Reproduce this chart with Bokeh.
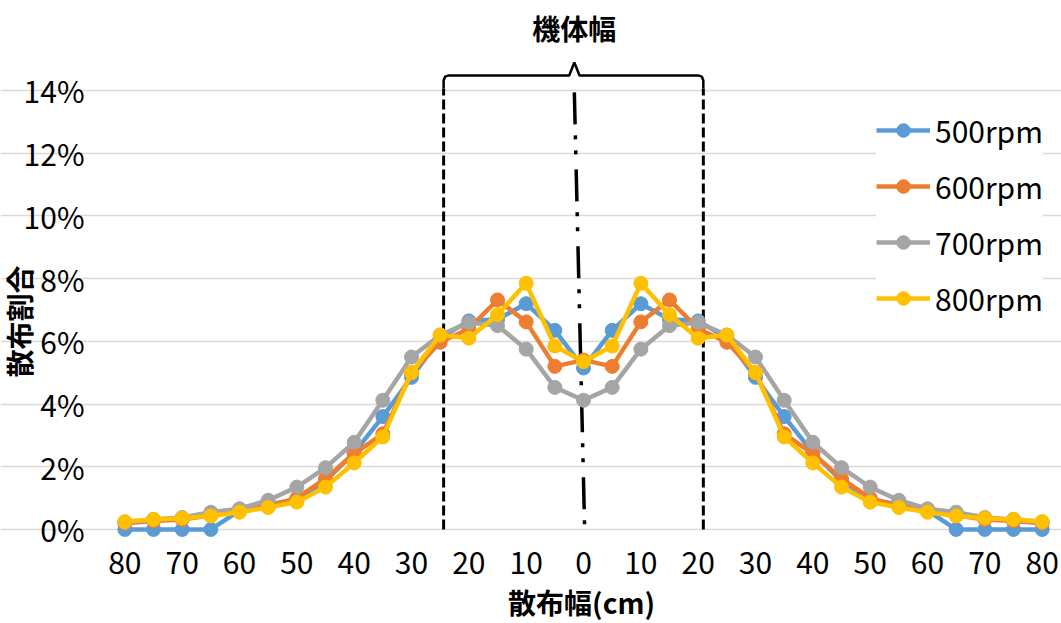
from bokeh.core.properties import value
from bokeh.embed import file_html
from bokeh.models import (ColumnDataSource, FixedTicker, Legend, LegendItem,
                          Range1d)
from bokeh.plotting import figure
from bokeh.resources import INLINE

# Distance from the machine centre line (cm); negative = left side
offset_cm = [-80, -75, -70, -65, -60, -55, -50, -45, -40, -35, -30, -25, -20,
             -15, -10, -5, 0, 5, 10, 15, 20, 25, 30, 35, 40, 45, 50, 55, 60,
             65, 70, 75, 80]

# Spread ratio (%) for each rotor speed
rpm_500 = [0.0, 0.0, 0.0, 0.0, 0.6, 0.8, 0.95, 1.55, 2.45, 3.6, 4.85, 6.1, 6.65,
           6.7, 7.2, 6.35, 5.15, 6.35, 7.2, 6.7, 6.65, 6.1, 4.85, 3.6, 2.45,
           1.55, 0.95, 0.8, 0.6, 0.0, 0.0, 0.0, 0.0]
rpm_600 = [0.2, 0.27, 0.32, 0.45, 0.58, 0.75, 1.0, 1.62, 2.42, 3.05, 5.0, 5.97,
           6.4, 7.32, 6.62, 5.2, 5.4, 5.2, 6.62, 7.32, 6.4, 5.97, 5.0, 3.05,
           2.42, 1.62, 1.0, 0.75, 0.58, 0.45, 0.32, 0.27, 0.2]
rpm_700 = [0.22, 0.32, 0.38, 0.55, 0.66, 0.93, 1.35, 1.97, 2.78, 4.12, 5.5, 6.2,
           6.6, 6.5, 5.75, 4.53, 4.12, 4.53, 5.75, 6.5, 6.6, 6.2, 5.5, 4.12,
           2.78, 1.97, 1.35, 0.93, 0.66, 0.55, 0.38, 0.32, 0.22]
rpm_800 = [0.25, 0.32, 0.36, 0.43, 0.55, 0.7, 0.87, 1.35, 2.12, 2.95, 5.0, 6.2,
           6.1, 6.85, 7.85, 5.85, 5.35, 5.85, 7.85, 6.85, 6.1, 6.2, 5.0, 2.95,
           2.12, 1.35, 0.87, 0.7, 0.55, 0.43, 0.36, 0.32, 0.25]

series_names = ["500rpm", "600rpm", "700rpm", "800rpm"]
series_values = [rpm_500, rpm_600, rpm_700, rpm_800]
series_colors = ["#5B9BD5", "#ED7D31", "#A5A5A5", "#FFC000"]

x_ticks = [-80, -70, -60, -50, -40, -30, -20, -10, 0, 10, 20, 30, 40, 50, 60,
           70, 80]
x_tick_labels = ["80", "70", "60", "50", "40", "30", "20", "10", "0", "10",
                 "20", "30", "40", "50", "60", "70", "80"]
y_ticks = [0, 2, 4, 6, 8, 10, 12, 14]
y_tick_labels = ["0%", "2%", "4%", "6%", "8%", "10%", "12%", "14%"]

x_title = ["散布幅(cm)"]
y_title = ["散布割合"]

# Machine body width and centre line (cm)
body_left_cm = -24.4
body_right_cm = 20.9
centre_top_cm = -1.6
centre_bottom_cm = 0.2
body_title = ["機体幅"]

FONT = "Noto Sans CJK JP"
NUM_SIZE = "30px"
TITLE_SIZE = "28px"

# Data area spans -82.5..82.5 cm and 0..14 %; the ranges reach further so
# that the titles and the brace sit inside the drawing frame.
X_MIN, X_MAX = -82.5, 82.5
p = figure(width=1061, height=623, output_backend="svg", toolbar_location=None,
           x_range=Range1d(-101.69, 83.37), y_range=Range1d(-3.0, 16.87),
           min_border_left=0, min_border_right=0, min_border_top=0,
           min_border_bottom=0)
p.outline_line_color = None
p.background_fill_color = "white"
p.border_fill_color = "white"

p.xgrid.visible = False
p.ygrid.grid_line_color = "#D9D9D9"
p.ygrid.grid_line_width = 1.5
p.ygrid.bounds = (X_MIN, X_MAX)

# y axis pinned to the left edge of the data area
p.yaxis.fixed_location = X_MIN
p.yaxis.ticker = FixedTicker(ticks=y_ticks)
p.yaxis.major_label_overrides = dict(zip(y_ticks, y_tick_labels))
p.yaxis.axis_line_color = None
p.yaxis.major_tick_line_color = None
p.yaxis.minor_tick_line_color = None
p.yaxis.major_label_standoff = 20
p.yaxis.major_label_text_font = FONT
p.yaxis.major_label_text_font_size = NUM_SIZE
p.yaxis.major_label_text_color = "black"

# x axis pinned to 0 %, distances shown without sign on both sides
p.xaxis.fixed_location = 0
p.xaxis.ticker = FixedTicker(ticks=x_ticks)
p.xaxis.major_label_overrides = dict(zip(x_ticks, x_tick_labels))
p.xaxis.axis_line_color = None
p.xaxis.major_tick_line_color = None
p.xaxis.minor_tick_line_color = None
p.xaxis.major_label_standoff = 17
p.xaxis.major_label_text_font = FONT
p.xaxis.major_label_text_font_size = NUM_SIZE
p.xaxis.major_label_text_color = "black"

# Axis titles
p.text(x=[-0.35], y=[-2.3], text=x_title, text_font=value(FONT),
       text_font_style="bold", text_font_size=TITLE_SIZE, text_align="center",
       text_baseline="middle", text_color="black")
p.text(x=[-98.4], y=[6.63], text=y_title, angle=1.5708, text_font=value(FONT),
       text_font_style="bold", text_font_size=TITLE_SIZE, text_align="center",
       text_baseline="middle", text_color="black")

# Machine-width marker: dashed side lines, dash-dot centre line, brace, title
p.segment(x0=[body_left_cm, body_right_cm], y0=[0, 0],
          x1=[body_left_cm, body_right_cm], y1=[14.06, 14.06],
          line_color="black", line_width=3, line_dash="10 4")
p.line([centre_top_cm, centre_bottom_cm], [13.94, 0], line_color="black",
       line_width=3.5, line_dash="32 11 4 11 4 15")
brace_x = [body_left_cm, body_left_cm, body_left_cm + 0.25, body_left_cm + 0.9,
           centre_top_cm - 0.9, centre_top_cm, centre_top_cm + 0.9,
           body_right_cm - 0.9, body_right_cm - 0.25, body_right_cm,
           body_right_cm]
brace_y = [14.06, 14.32, 14.44, 14.48, 14.48, 14.89, 14.48, 14.48, 14.44,
           14.32, 14.06]
p.line(brace_x, brace_y, line_color="black", line_width=2.5)
p.text(x=[centre_top_cm], y=[16.0], text=body_title,
       text_font=value(FONT), text_font_style="bold",
       text_font_size=TITLE_SIZE, text_align="center", text_baseline="middle",
       text_color="black")

items = []
for name, vals, color in zip(series_names, series_values, series_colors):
    src = ColumnDataSource(dict(x=offset_cm, y=vals))
    r_line = p.line("x", "y", source=src, line_color=color, line_width=4.5,
                    line_join="round")
    r_dot = p.scatter("x", "y", source=src, size=14, fill_color=color,
                      line_color=color)
    items.append(LegendItem(label=name, renderers=[r_line, r_dot]))

legend = Legend(items=items, location=(876, 303), orientation="vertical",
                glyph_width=54, glyph_height=34, label_height=34,
                label_standoff=5, spacing=12, padding=9, margin=0,
                border_line_color=None, background_fill_color="white",
                background_fill_alpha=1.0,
                label_text_font=FONT, label_text_font_size=NUM_SIZE,
                label_text_color="black")
p.add_layout(legend)

open("out.html", "w").write(file_html(p, INLINE))
